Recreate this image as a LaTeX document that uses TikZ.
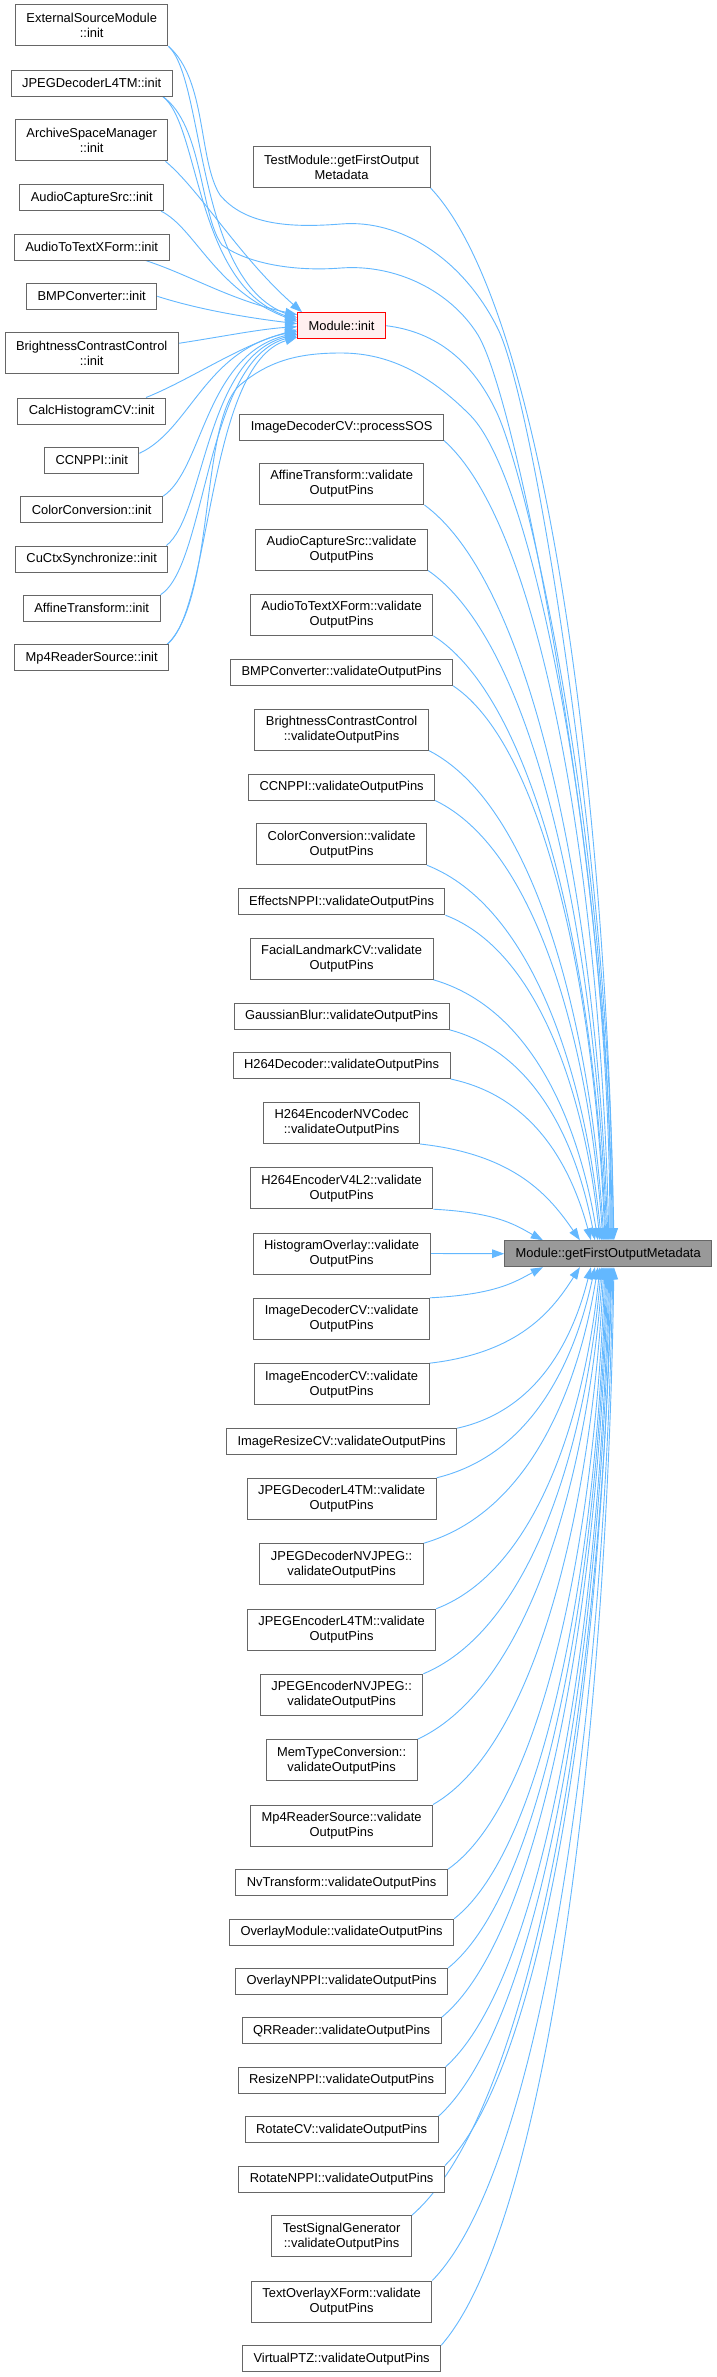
\documentclass[tikz,border=0pt]{standalone}
\usepackage{fontspec}
\setmainfont{Liberation Sans}
\usetikzlibrary{arrows.meta,calc}
\definecolor{edgec}{HTML}{63B8FF}
\definecolor{boxb}{HTML}{666666}
\definecolor{minitf}{HTML}{FFF0F0}
\definecolor{minitb}{HTML}{FF0000}
\definecolor{tfill}{HTML}{999999}
\pgfdeclarelayer{bg}
\pgfsetlayers{bg,main}
\tikzset{
  box1/.style={draw=boxb, line width=1pt, fill=white, rectangle, inner xsep=11pt, inner ysep=0pt,
    minimum height=26pt, font=\fontsize{12.9pt}{15pt}\selectfont, align=center},
  box2/.style={box1, minimum height=41pt},
  edge/.style={draw=edgec, line width=0.9pt, -{Triangle[length=12pt,width=8.5pt]}, fill=none}
}
\newcommand\toT[2]{\draw[edge] let \p1=(#1), \p2=(#2) in (\p1) .. controls ({\x1+0.6*(\x2-\x1)},{\y1+0.11*(\y2-\y1)}) and ({\x2-0.3*((\x2-\x1)/((\x2-\x1)+abs(\y1-\y2)))*(\x2-\x1)},{\y2+0.45*(\y1-\y2)}) .. (\p2);}
\begin{document}
\begin{tikzpicture}[x=1pt,y=-1pt]
\useasboundingbox (0,0) rectangle (717,2377);
% left column
\node[box2] (ext)  at (91.7,25.3)  {ExternalSourceModule\\::init};
\node[box1] (jdec) at (91.7,83)    {JPEGDecoderL4TM::init};
\node[box2] (arch) at (91.7,140.3) {ArchiveSpaceManager\\::init};
\node[box1] (acap) at (91.7,197.7) {AudioCaptureSrc::init};
\node[box1] (atot) at (91.7,247)   {AudioToTextXForm::init};
\node[box1] (bmp)  at (91.7,296.3) {BMPConverter::init};
\node[box2] (bcc)  at (91.7,353.3) {BrightnessContrastControl\\::init};
\node[box1] (calc) at (91.7,411)   {CalcHistogramCV::init};
\node[box1] (ccn)  at (91.7,460.3) {CCNPPI::init};
\node[box1] (col)  at (91.7,509.7) {ColorConversion::init};
\node[box1] (cuc)  at (91.7,559)   {CuCtxSynchronize::init};
\node[box1] (aff)  at (91.7,608.3) {AffineTransform::init};
\node[box1] (mp4)  at (91.7,657.7) {Mp4ReaderSource::init};
% middle column
\node[box2] (tm)   at (341.6,167)    {TestModule::getFirstOutput\\Metadata};
\node[box1, draw=minitb, fill=minitf] (mi) at (341.6,325.7) {Module::init};
\node[box1] (sos)  at (341.6,427)    {ImageDecoderCV::processSOS};
\node[box2] (affv) at (341.6,484)    {AffineTransform::validate\\OutputPins};
\node[box2] (acapv) at (341.6,549.5) {AudioCaptureSrc::validate\\OutputPins};
\node[box2] (atotv) at (341.6,614.8) {AudioToTextXForm::validate\\OutputPins};
\node[box1] (bmpv) at (341.6,672.3)  {BMPConverter::validateOutputPins};
\node[box2] (bccv) at (341.6,729.5)  {BrightnessContrastControl\\::validateOutputPins};
\node[box1] (ccnv) at (341.6,787)    {CCNPPI::validateOutputPins};
\node[box2] (colv) at (341.6,844.2)  {ColorConversion::validate\\OutputPins};
\node[box1] (effv) at (341.6,901.7)  {EffectsNPPI::validateOutputPins};
\node[box2] (facv) at (341.6,958.8)  {FacialLandmarkCV::validate\\OutputPins};
\node[box1] (gauv) at (341.6,1016.3) {GaussianBlur::validateOutputPins};
\node[box1] (hdv)  at (341.6,1065.5) {H264Decoder::validateOutputPins};
\node[box2] (hnv)  at (341.6,1123)   {H264EncoderNVCodec\\::validateOutputPins};
\node[box2] (hv4)  at (341.6,1188.2) {H264EncoderV4L2::validate\\OutputPins};
\node[box2] (hov)  at (341.6,1253.5) {HistogramOverlay::validate\\OutputPins};
\node[box2] (idv)  at (341.6,1318.8) {ImageDecoderCV::validate\\OutputPins};
\node[box2] (iev)  at (341.6,1384.2) {ImageEncoderCV::validate\\OutputPins};
\node[box1] (irv)  at (341.6,1441.7) {ImageResizeCV::validateOutputPins};
\node[box2] (jdv)  at (341.6,1498.8) {JPEGDecoderL4TM::validate\\OutputPins};
\node[box2] (jdnv) at (341.6,1564.2) {JPEGDecoderNVJPEG::\\validateOutputPins};
\node[box2] (jev)  at (341.6,1629.7) {JPEGEncoderL4TM::validate\\OutputPins};
\node[box2] (jenv) at (341.6,1694.8) {JPEGEncoderNVJPEG::\\validateOutputPins};
\node[box2] (mtv)  at (341.6,1760.2) {MemTypeConversion::\\validateOutputPins};
\node[box2] (mp4v) at (341.6,1825.5) {Mp4ReaderSource::validate\\OutputPins};
\node[box1] (nvv)  at (341.6,1882.8) {NvTransform::validateOutputPins};
\node[box1] (omv)  at (341.6,1932.2) {OverlayModule::validateOutputPins};
\node[box1] (onv)  at (341.6,1981.5) {OverlayNPPI::validateOutputPins};
\node[box1] (qrv)  at (341.6,2030.8) {QRReader::validateOutputPins};
\node[box1] (rnv)  at (341.6,2080.3) {ResizeNPPI::validateOutputPins};
\node[box1] (rcv)  at (341.6,2129.7) {RotateCV::validateOutputPins};
\node[box1] (rov)  at (341.6,2179)   {RotateNPPI::validateOutputPins};
\node[box2] (tsv)  at (341.6,2236.2) {TestSignalGenerator\\::validateOutputPins};
\node[box2] (txv)  at (341.6,2301.5) {TextOverlayXForm::validate\\OutputPins};
\node[box1] (vpv)  at (341.6,2358.8) {VirtualPTZ::validateOutputPins};
% target
\node[box1, fill=tfill] (T) at (608.2,1253.7) {Module::getFirstOutputMetadata};
% virtual waypoints
\coordinate (w1) at (341,224);
\coordinate (w2) at (341,268);
\coordinate (w3) at (341,353);
\begin{pgfonlayer}{bg}
\fill[white] (0,0) rectangle (717,2377);
% left -> Module::init
\draw[edge] (ext.south east) .. controls (205,80) and (195,280) .. ($(mi.west)+(0,-8)$);
\draw[edge] ($(jdec.south east)+(-10,0)$) .. controls (200,125) and (195,285) .. ($(mi.west)+(0,-6)$);
\draw[edge] ($(arch.south east)+(-3,0)$) .. controls (200,190) and (240,258) .. ($(mi.north west)+(5,0)$);
\draw[edge] ($(acap.south east)+(-3,0)$) .. controls (195,228) and (215,290) .. ($(mi.west)+(0,-4)$);
\draw[edge] ($(atot.south east)+(-24,0)$) .. controls (190,275) and (230,300) .. ($(mi.west)+(0,-11)$);
\draw[edge] (bmp.east) .. controls (200,310) and (250,318) .. ($(mi.west)+(0,-2)$);
\draw[edge] ($(bcc.east)+(0,-10)$) .. controls (220,337) and (260,329) .. ($(mi.west)+(0,1)$);
\draw[edge] ($(calc.north east)+(-20,0)$) .. controls (190,380) and (240,345) .. ($(mi.west)+(0,4)$);
\draw[edge] ($(ccn.east)+(0,-7)$) .. controls (190,430) and (205,350) .. ($(mi.west)+(0,5.5)$);
\draw[edge] ($(col.north east)+(0,0)$) .. controls (203,470) and (205,355) .. ($(mi.west)+(0,7)$);
\draw[edge] ($(cuc.north east)+(-2,0)$) .. controls (205,515) and (205,357) .. ($(mi.west)+(0,8.5)$);
\draw[edge] ($(aff.north east)+(0,0)$) .. controls (207,565) and (205,360) .. ($(mi.west)+(0,10)$);
\draw[edge] ($(mp4.north east)+(-2,0)$) .. controls (212,610) and (207,365) .. ($(mi.west)+(0,11.5)$);
% left -> target through virtual points
\draw[edge] (ext.south east) .. controls (207,80) and (198,160) .. (220,195)
  .. controls (245,225) and (290,228) .. (w1)
  .. controls (400,219) and (462,258) .. (497,327)
  .. controls (535,400) and (613,900) .. ($(T.north west)+(108.7,0)$);
\draw[edge] ($(jdec.south east)+(-10,0)$) .. controls (203,125) and (200,215) .. (222,245)
  .. controls (245,262) and (290,272) .. (w2)
  .. controls (395,264) and (450,290) .. (478,335)
  .. controls (520,405) and (612,900) .. ($(T.north west)+(107.7,0)$);
\draw[edge] ($(mp4.north east)+(-2,0)$) .. controls (215,600) and (200,420) .. (240,385)
  .. controls (270,360) and (300,353) .. (w3)
  .. controls (390,353) and (430,375) .. (470,415)
  .. controls (540,485) and (610,900) .. ($(T.north west)+(105.7,0)$);
\draw[edge] (mi.east) .. controls (430,331) and (470,355) .. (497,413)
  .. controls (530,485) and (611,850) .. ($(T.north west)+(106.7,0)$);
% middle -> target (upper)
\toT{tm.south east}{$(T.north west)+(109.7,0)$}
\toT{sos.south east}{$(T.north west)+(104.7,0)$}
\toT{affv.south east}{$(T.north west)+(103.7,0)$}
\toT{acapv.south east}{$(T.north west)+(102.7,0)$}
\toT{atotv.south east}{$(T.north west)+(101.7,0)$}
\toT{bmpv.south east}{$(T.north west)+(100.7,0)$}
\toT{bccv.south east}{$(T.north west)+(99.7,0)$}
\toT{ccnv.south east}{$(T.north west)+(98.7,0)$}
\toT{colv.south east}{$(T.north west)+(97.2,0)$}
\toT{effv.south east}{$(T.north west)+(95.7,0)$}
\toT{facv.south east}{$(T.north west)+(93.7,0)$}
\toT{gauv.south east}{$(T.north west)+(90.7,0)$}
\toT{hdv.south east}{$(T.north west)+(86.7,0)$}
\toT{hnv.south east}{$(T.north west)+(75.7,0)$}
\toT{hv4.south east}{$(T.north west)+(38.7,0)$}
% horizontal
\draw[edge] (hov.east) -- (T.west);
% middle -> target (lower)
\toT{idv.north east}{$(T.south west)+(38.7,0)$}
\toT{iev.north east}{$(T.south west)+(75.7,0)$}
\toT{irv.north east}{$(T.south west)+(86.7,0)$}
\toT{jdv.north east}{$(T.south west)+(90.7,0)$}
\toT{jdnv.north east}{$(T.south west)+(93.7,0)$}
\toT{jev.north east}{$(T.south west)+(95.7,0)$}
\toT{jenv.north east}{$(T.south west)+(97.2,0)$}
\toT{mtv.north east}{$(T.south west)+(98.7,0)$}
\toT{mp4v.north east}{$(T.south west)+(99.7,0)$}
\toT{nvv.north east}{$(T.south west)+(100.7,0)$}
\toT{omv.north east}{$(T.south west)+(101.7,0)$}
\toT{onv.north east}{$(T.south west)+(102.7,0)$}
\toT{qrv.north east}{$(T.south west)+(103.7,0)$}
\toT{rnv.north east}{$(T.south west)+(104.7,0)$}
\toT{rcv.north east}{$(T.south west)+(105.7,0)$}
\toT{rov.north east}{$(T.south west)+(106.7,0)$}
\toT{tsv.north east}{$(T.south west)+(107.7,0)$}
\toT{txv.north east}{$(T.south west)+(108.7,0)$}
\toT{vpv.north east}{$(T.south west)+(109.7,0)$}
\end{pgfonlayer}
\end{tikzpicture}
\end{document}
